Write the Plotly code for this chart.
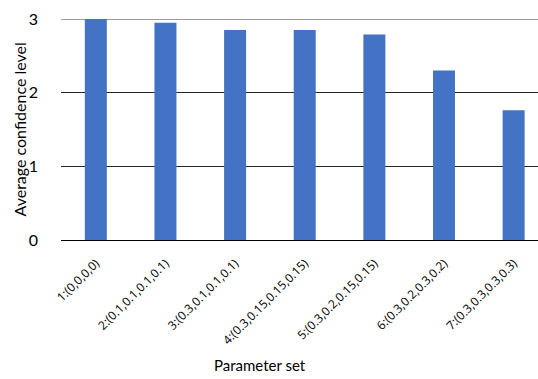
import plotly.graph_objects as go

categories = ["1:(0,0,0,0)", "2:(0.1,0.1,0.1,0.1)", "3:(0.3,0.1,0.1,0.1)",
              "4:(0.3,0.15,0.15,0.15)", "5:(0.3,0.2,0.15,0.15)",
              "6:(0.3,0.2,0.3,0.2)", "7:(0.3,0.3,0.3,0.3)"]
values = [3.0, 2.95, 2.85, 2.85, 2.79, 2.30, 1.76]
y_ticks = [0, 1, 2, 3]

FONT = "Lato"
L, T, B = 61, 19, 139
W, H = 538, 379
pw, ph = W - L, H - T - B

fig = go.Figure(go.Bar(x=categories, y=values, marker_color="#4472C4",
                       marker_line_width=0))
fig.update_layout(
    width=W, height=H,
    margin=dict(l=L, r=0, t=T, b=B),
    plot_bgcolor="white", paper_bgcolor="white",
    bargap=0.684, showlegend=False,
    font=dict(family=FONT, color="#000000"),
)
fig.update_xaxes(
    range=[-0.5, 6.35], tickangle=-45,
    tickfont=dict(size=12, family="Open Sans"),
    showgrid=False, showline=False, ticks="", ticklabelstandoff=13,
)
fig.update_yaxes(
    range=[0, 3], tickvals=y_ticks, tickfont=dict(size=16),
    showgrid=True, gridcolor="#262626", gridwidth=1, zeroline=True,
    zerolinecolor="#000000", zerolinewidth=1, showline=False,
    ticks="", ticklabelstandoff=22,
)
fig.add_shape(type="line", xref="paper", yref="y", x0=0, x1=1,
              y0=y_ticks[-1], y1=y_ticks[-1], layer="below",
              line=dict(color="#7a7a7a", width=1.5))
fig.add_annotation(text="Parameter set", xref="paper", yref="paper",
                   x=(260 - L) / pw, y=(240 - 365) / ph, showarrow=False,
                   xanchor="center", yanchor="middle", font=dict(size=15))
fig.add_annotation(text="Average confidence level", xref="paper", yref="paper",
                   x=(19 - L) / pw, y=0.5, showarrow=False, textangle=-90,
                   xanchor="center", yanchor="middle", font=dict(size=16))
fig.write_html("out.html")
